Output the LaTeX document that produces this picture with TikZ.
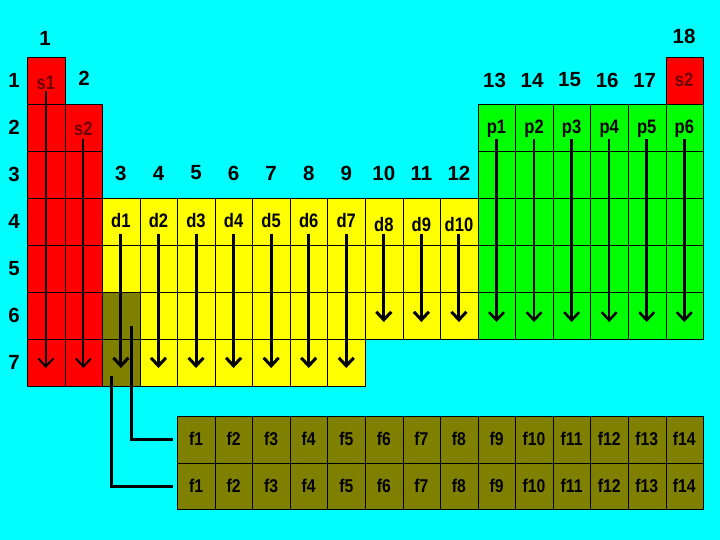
\documentclass[tikz,border=0pt]{standalone}
\usepackage{fontspec}
\setmainfont{Liberation Sans}
\newfontfamily\nb{Liberation Sans}[FakeStretch=0.85]
\usetikzlibrary{arrows.meta}
\definecolor{bg}{RGB}{0,255,255}
\definecolor{sred}{RGB}{255,0,0}
\definecolor{dyel}{RGB}{255,255,0}
\definecolor{pgrn}{RGB}{0,255,0}
\definecolor{folive}{RGB}{128,128,0}
\definecolor{slab}{RGB}{110,0,0}
\tikzset{
  cell/.style={draw=black, line width=0.9pt, minimum width=37.56pt, minimum height=47pt, inner sep=0pt, anchor=north west},
  fcell/.style={cell, fill=folive, minimum height=46.5pt},
  num/.style={font=\bfseries\fontsize{20.5}{24}\selectfont, inner sep=0pt},
  lab/.style={font=\nb\bfseries\fontsize{19.5}{22}\selectfont, inner sep=0pt, text height=14pt, text depth=0pt},
  flab/.style={font=\nb\bfseries\fontsize{18.5}{21}\selectfont, inner sep=0pt},
  arr/.style={line width=3pt, -{Straight Barb[length=8pt,width=15pt]}},
  conn/.style={line width=3pt, line cap=butt},
}
\begin{document}
\begin{tikzpicture}[x=1pt,y=-1pt]
\fill[bg] (0,0) rectangle (720,540);
\useasboundingbox (0,0) rectangle (720,540);
% s block
\foreach \r in {1,...,7} \node[cell,fill=sred] (c1-\r) at (27,{57+(\r-1)*47}) {};
\foreach \r in {2,...,7} \node[cell,fill=sred] (c2-\r) at (64.56,{57+(\r-1)*47}) {};
\node[cell,fill=sred] (c18-1) at ({27+17*37.56},57) {};
% d block
\foreach \c in {3,...,9} \foreach \r in {4,...,7} {
  \pgfmathsetmacro\xx{27+(\c-1)*37.56}
  \node[cell,fill=dyel] (c\c-\r) at (\xx,{57+(\r-1)*47}) {};
}
\foreach \c in {10,11,12} \foreach \r in {4,5,6} {
  \pgfmathsetmacro\xx{27+(\c-1)*37.56}
  \node[cell,fill=dyel] (c\c-\r) at (\xx,{57+(\r-1)*47}) {};
}
\node[cell,fill=folive] (c3-6b) at (102.12,292) {};
\node[cell,fill=folive] (c3-7b) at (102.12,339) {};
% p block
\foreach \c in {13,...,18} \foreach \r in {2,...,6} {
  \pgfmathsetmacro\xx{27+(\c-1)*37.56}
  \node[cell,fill=pgrn] (c\c-\r) at (\xx,{57+(\r-1)*47}) {};
}
% f block
\foreach \k in {1,...,14} {
  \pgfmathsetmacro\xx{27+(\k+3)*37.56}
  \pgfmathsetmacro\xc{27+(\k+3.5)*37.56}
  \node[fcell] (fa-\k) at (\xx,416) {};
  \node[fcell] (fb-\k) at (\xx,462.5) {};
  \node[flab] at (\xc,439) {f\k};
  \node[flab] at (\xc,485.5) {f\k};
}
% group numbers
\node[num] (g1) at (45,38) {1};
\node[num] (g2) at (84,78) {2};
\node[num] (g18) at (684,36) {18};
\foreach \c in {3,...,12} {
  \pgfmathsetmacro\xc{27+(\c-0.5)*37.56}
  \node[num] (g\c) at (\xc,173) {\c};
}
\foreach \c in {13,...,17} {
  \pgfmathsetmacro\xc{27+(\c-0.5)*37.56-2}
  \node[num] (g\c) at (\xc,80) {\c};
}
% period numbers
\foreach \r in {1,...,7} \node[num] (per\r) at (14,{80.5+(\r-1)*47}) {\r};
% s labels and arrows
\node[lab,text=slab] (l-s1) at (45.8,83) {s1};
\node[lab,text=slab] (l-s2) at (83.4,129) {s2};
\node[lab,text=slab] (l-s2h) at (684.2,80) {s2};
\coordinate (e-s1) at (45.8,368);
\coordinate (e-s2) at (83.4,368);
\draw[arr,line width=2pt,shorten <=1pt] (l-s1.south) -- (e-s1);
\draw[arr,line width=2pt,shorten <=3pt] (l-s2.south) -- (e-s2);
% d labels and arrows
\foreach \c/\t in {3/d1,4/d2,5/d3,6/d4,7/d5,8/d6,9/d7} {
  \pgfmathsetmacro\xc{27+(\c-0.5)*37.56}
  \node[lab] (l-\t) at (\xc,221) {\t};
  \coordinate (e-\t) at (\xc,368);
  \draw[arr,shorten <=6pt] (l-\t.south) -- (e-\t);
}
\foreach \c/\t in {10/d8,11/d9,12/d10} {
  \pgfmathsetmacro\xc{27+(\c-0.5)*37.56}
  \node[lab] (l-\t) at (\xc,224) {\t};
  \coordinate (e-\t) at (\xc,322);
  \draw[arr,shorten <=3pt] (l-\t.south) -- (e-\t);
}
% p labels and arrows
\foreach \c/\t in {13/p1,14/p2,15/p3,16/p4,17/p5,18/p6} {
  \pgfmathsetmacro\xc{27+(\c-0.5)*37.56}
  \node[lab] (l-\t) at (\xc,127) {\t};
  \coordinate (e-\t) at (\xc,322);
  \draw[arr,line width=2.5pt,shorten <=5pt] (l-\t.south) -- (e-\t);
}
% f connectors
\coordinate (fs1) at (131,326);
\coordinate (fs2) at (111,376);
\draw[conn,shorten >=4pt] (fs1) |- (fa-1.west);
\draw[conn,shorten >=4pt] (fs2) |- (fb-1.west);
\end{tikzpicture}
\end{document}
